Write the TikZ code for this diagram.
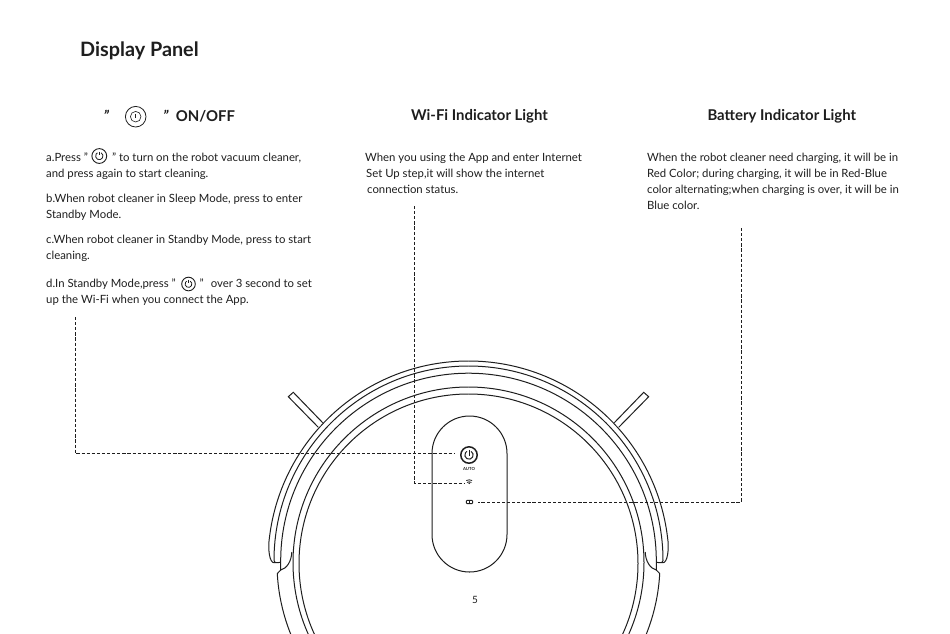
\documentclass[tikz,border=0pt]{standalone}
\usepackage{fontspec}
\setmainfont{Lato}
\definecolor{ink}{HTML}{1E1E1E}
\newcommand{\barc}[5]{({#1+#3*cos(#4)},{#2-#3*sin(#4)}) arc[start angle=#4,end angle=#5,radius=#3 pt]}
\tikzset{
  x=1pt,y=-1pt,
  outline/.style={draw=ink,line width=1pt,fill=none},
  leader/.style={draw=ink,line width=0.7pt,dash pattern=on 3.2pt off 1.9pt},
  para/.style={anchor=north west,inner sep=0pt,align=left,text=ink,font=\fontsize{11.35}{16}\selectfont},
  head/.style={anchor=base,inner sep=0pt,text=ink,font=\fontsize{14.9}{16}\selectfont\bfseries},
  pwr/.pic={
    \draw[ink,line width=0.9pt] (0,0) circle[radius=7.4pt];
    \draw[ink,line width=0.8pt] \barc{0}{0}{3.7}{60}{-240};
    \draw[ink,line width=0.8pt] (0,-4.4) -- (0,-0.6);
  },
  halfbody/.pic={
    \draw[outline] \barc{468.5}{561.5}{200.5}{90}{173} .. controls (267.6,549) and (269.5,563.2) .. (274.3,562.7) -- (280.7,562.4);
    \draw[outline] \barc{468.5}{560.5}{194.5}{90}{180} -- (275.2,562.5);
    \draw[outline] \barc{468.5}{561}{187.8}{90}{180} -- (280.7,570) .. controls (287,568.5) and (291.5,561) .. (291.8,552);
    \draw[outline] (280.7,570) -- (277.4,573.4);
    \draw[outline] \barc{468.5}{563}{191.5}{183}{240};
    \draw[outline] \barc{468.5}{562.5}{175.5}{90}{270};
    \draw[outline] \barc{468.5}{563.5}{169.5}{90}{270};
    \draw[outline,fill=white] (318.3,427.3) -- (288.3,396.7) -- (293.3,392.3) -- (322.7,422.7);
  }
}
\begin{document}
\begin{tikzpicture}
\clip (0,0) rectangle (950,633);
\fill[white] (0,0) rectangle (950,633);

\pic {halfbody};
\pic[xshift=937pt,xscale=-1] {halfbody};

% panel
\draw[outline] (432,453.5) arc[start angle=180,end angle=0,radius=37.5pt] -- (507,534.5) arc[start angle=0,end angle=-180,radius=37.5pt] -- cycle;

% title and headings
\node[anchor=base west,inner sep=0pt,text=ink,font=\fontsize{19.8}{22}\selectfont\bfseries] (title) at (80,56) {Display Panel};
\node[head] (quoteL) at (106.5,121) {\textit{"}};
\draw[ink,line width=0.8pt] (135.7,116.7) circle[radius=10.3pt];
\draw[ink,line width=0.6pt] (135.7,116.7) circle[radius=5.3pt];
\draw[ink,line width=0.5pt] (135.7,114) -- (135.7,117.5);
\node[head,anchor=base west] (onoff) at (163,121) {\textit{"}\hspace{7pt}ON/OFF};
\node[head] (wifihead) at (479.5,120.5) {Wi-Fi Indicator Light};
\node[head] (bathead) at (781.8,120.5) {Battery Indicator Light};

% left column
\node[para] (pa) at (46,153) {a.Press "\hspace{24pt}" to turn on the robot vacuum cleaner,\\and press again to start cleaning.};
\node[para] (pb) at (46,194) {b.When robot cleaner in Sleep Mode, press to enter\\Standby Mode.};
\node[para] (pc) at (46,235) {c.When robot cleaner in Standby Mode, press to start\\cleaning.};
\node[para] (pd) at (46,279) {d.In Standby Mode,press "\hspace{24pt}"\hspace{4pt} over 3 second to set\\up the Wi-Fi when you connect the App.};
\pic at (99.3,156) {pwr};
\pic[scale=0.92] at (188.5,284) {pwr};

% middle and right column
\node[para] (pm) at (365,153) {When you using the App and enter Internet\\\hspace{1pt}Set Up step,it will show the internet\\\hspace{2pt}connection status.};
\node[para] (pr) at (647,153) {When the robot cleaner need charging, it will be in\\Red Color; during charging, it will be in Red-Blue\\color alternating;when charging is over, it will be in\\Blue color.};

% panel icons
\draw[ink,line width=1.5pt] (469,455) circle[radius=8.2pt];
\draw[ink,line width=1pt] \barc{469}{455}{4.2}{60}{-240};
\draw[ink,line width=1pt] (469,449.8) -- (469,455.5);
\coordinate (powerin) at (454,453.3);
\node[anchor=center,inner sep=0pt,text=ink,font=\fontsize{4.2}{5}\selectfont\bfseries] (auto) at (469,469) {AUTO};
\draw[ink,line width=0.8pt] \barc{469.2}{486}{6.2}{62}{118};
\draw[ink,line width=0.8pt] \barc{469.2}{486}{4.2}{58}{122};
\fill[ink] (469.2,483.2) circle[radius=0.9pt];
\coordinate (wifiin) at (465,483);
\draw[ink,line width=0.9pt,rounded corners=0.8pt] (466.4,500.3) rectangle (472.6,503.6);
\draw[ink,line width=0.7pt] (469.5,500.3) -- (469.5,503.6);
\coordinate (batin) at (478,502);
\node[anchor=center,inner sep=0pt,text=ink,font=\fontsize{10}{12}\selectfont] (pageno) at (475,600) {5};

% leaders
\coordinate (powerfree) at (75,317);
\coordinate (wififree) at (414.5,206);
\coordinate (batfree) at (741,228);
\draw[leader] (powerfree) |- (powerin);
\draw[leader] (wififree) |- (wifiin);
\draw[leader] (batfree) |- (batin);
\end{tikzpicture}
\end{document}
